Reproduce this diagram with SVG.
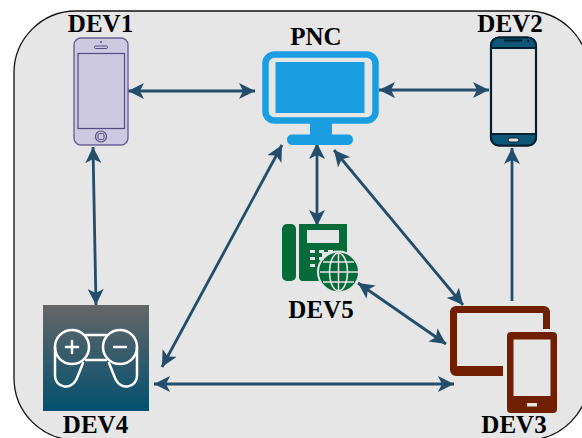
<svg xmlns="http://www.w3.org/2000/svg" width="582" height="438" viewBox="0 0 582 438">
<style>
.l{font-family:"Liberation Serif","Times New Roman",serif;font-weight:700;font-size:25px;fill:#000;text-anchor:middle}
.c{fill:none;stroke:#234d6b;stroke-width:2.8;marker-start:url(#a);marker-end:url(#a)}
.e{fill:none;stroke:#234d6b;stroke-width:2.8;marker-end:url(#a)}
</style>
<defs>
<marker id="a" viewBox="0 0 17 16" refX="16" refY="8" markerWidth="17" markerHeight="16" markerUnits="userSpaceOnUse" orient="auto-start-reverse"><path d="M0 0L16 8L0 16L4 8Z" fill="#234d6b"/></marker>
<linearGradient id="g" x1="0" y1="0" x2="0" y2="1"><stop offset="0" stop-color="#666"/><stop offset="1" stop-color="#02506f"/></linearGradient>
</defs>
<rect width="582" height="438" fill="#fff"/>
<rect x="14" y="11" width="575" height="429" rx="62" fill="#e6e6e6" stroke="#111" stroke-width="1.3"/>
<g id="connectors">
<path class="c" d="M128 91H255"/>
<path class="c" d="M379 90H489"/>
<path class="c" d="M93 147L96 305"/>
<path class="c" d="M282 145L162 367"/>
<path class="c" d="M317 143V226"/>
<path class="c" d="M334 150L463 305"/>
<path class="c" d="M358 283L446 344"/>
<path class="c" d="M154 384H454"/>
<path class="e" d="M512 301V148"/>
</g>
<g id="dev1">
<text class="l" x="100.500" y="32">DEV1</text>
<rect x="74" y="38" width="54" height="107" rx="7" fill="#cdc9e3" stroke="#6a6294" stroke-width="1.4"/>
<rect x="78" y="53.500" width="46.500" height="75" fill="#cdc9e3" stroke="#544c7c" stroke-width="1.2"/>
<rect x="94.500" y="46" width="13" height="2.500" rx="1.200" fill="none" stroke="#544c7c"/>
<circle cx="101" cy="42" r="1" fill="#544c7c"/>
<circle cx="101" cy="136.500" r="5.500" fill="none" stroke="#544c7c" stroke-width="1.2"/>
<rect x="98" y="133.500" width="6" height="6" rx="1.500" fill="none" stroke="#544c7c"/>
</g>
<g id="pnc">
<text class="l" x="316" y="45">PNC</text>
<rect x="265.500" y="54.500" width="110" height="66" rx="9" fill="#e6e6e6" stroke="#1b9de2" stroke-width="6.500"/>
<rect x="275.500" y="62" width="89" height="51" fill="#1b9de2"/>
<rect x="310" y="122" width="22" height="15" fill="#1b9de2"/>
<rect x="287" y="134.500" width="66" height="10.500" rx="5" fill="#1b9de2"/>
</g>
<g id="dev2">
<text class="l" x="510" y="32">DEV2</text>
<rect x="491" y="37.500" width="45" height="108" rx="8" fill="#e6e6e6" stroke="#04202f" stroke-width="2.200"/>
<path d="M491 48V45.500a8 8 0 0 1 8-8h29a8 8 0 0 1 8 8V48ZM491 134H536V137.500a8 8 0 0 1-8 8H499a8 8 0 0 1-8-8Z" fill="#0d5678" stroke="#04202f" stroke-width="2"/>
<rect x="504" y="39.500" width="18" height="2" fill="#04202f"/>
<circle cx="528" cy="41" r="1.300" fill="#04202f"/>
<rect x="508" y="138" width="11" height="4" rx="2" fill="#e6e6e6" stroke="#04202f"/>
</g>
<g id="dev5">
<rect x="282" y="224" width="14" height="57" rx="5" fill="#056b3a"/>
<path d="M299 224H347V252H322V281H303a4 4 0 0 1-4-4Z" fill="#056b3a"/>
<rect x="307" y="230" width="32" height="13" fill="#e6e6e6"/>
<path d="M310 250h5v3h-5zM319 250h5v3h-5zM328 250h5v3h-5zM310 257h5v3h-5zM319 257h5v3h-5zM310 264h5v3h-5zM319 264h5v3h-5z" fill="#e6e6e6"/>
<circle cx="338.500" cy="272" r="20.500" fill="#056b3a" stroke="#e6e6e6" stroke-width="2"/>
<g fill="none" stroke="#e6e6e6" stroke-width="1.500">
<ellipse cx="338.500" cy="272" rx="9" ry="19"/>
<path d="M338.500 253V291M320 272H358M323 262H354M323 282H354"/>
</g>
<text class="l" x="321" y="318">DEV5</text>
</g>
<g id="dev3">
<path d="M456 306H544a6 6 0 0 1 6 6V329H543V313H457V366H503V376H456a6 6 0 0 1-6-6V312a6 6 0 0 1 6-6Z" fill="#702000"/>
<rect x="507" y="332" width="50" height="81" rx="4" fill="#702000"/>
<rect x="513.500" y="339.500" width="37" height="56.500" fill="#e6e6e6"/>
<rect x="527" y="403" width="10" height="3.500" fill="#e6e6e6"/>
<text class="l" x="514" y="433">DEV3</text>
</g>
<g id="dev4">
<rect x="43" y="305" width="106" height="106" fill="url(#g)"/>
<g fill="none" stroke="#fff" stroke-width="2.500" stroke-linecap="round">
<circle cx="72" cy="347" r="17"/>
<circle cx="120" cy="347" r="17"/>
<path d="M86 335H106M86 360H106"/>
<path d="M55 347V376C55 387 71 392 77 378L83 363"/>
<path d="M137 347V376C137 387 121 392 115 378L109 363"/>
<path d="M66 347H78M72 341V353M114 347H126"/>
</g>
<text class="l" x="95.500" y="433">DEV4</text>
</g>
</svg>
